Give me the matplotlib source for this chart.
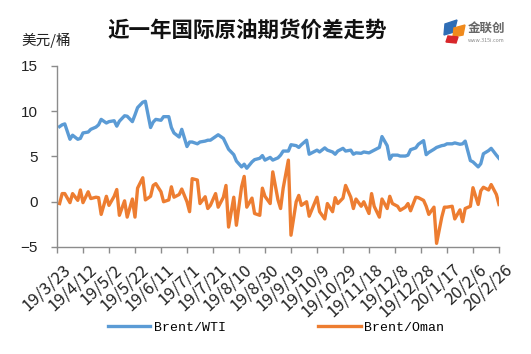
import numpy as np
import pandas as pd
import matplotlib
matplotlib.use("Agg")
import matplotlib.pyplot as plt
import matplotlib.transforms as mtransforms
from matplotlib.patches import Polygon

# 价差数据（美元/桶），隔一个交易日取一个点
brent_wti = [8.3, 8.5, 8.6, 6.9, 7.35, 6.9, 7.0, 7.6, 7.7, 8.0,
             8.25, 8.5, 9.1, 8.7, 8.85, 8.95, 8.35, 8.9, 9.5, 9.45,
             8.85, 9.6, 10.4, 11.0, 11.1, 8.2, 8.8, 9.1, 9.0, 9.4,
             9.4, 8.2, 7.6, 7.15, 8.0, 6.1, 6.6, 6.6, 6.4, 6.6,
             6.7, 6.8, 6.8, 7.2, 7.4, 7.0, 6.4, 5.8, 5.2, 4.5,
             3.85, 4.15, 3.7, 4.4, 4.65, 4.8, 5.1, 4.6, 4.9, 4.6,
             4.85, 5.15, 5.6, 5.6, 6.3, 6.2, 6.0, 6.3, 6.8, 5.25,
             5.55, 5.7, 5.5, 5.95, 5.7, 5.5, 5.25, 5.6, 5.9, 5.6,
             5.7, 5.25, 5.4, 5.35, 5.5, 5.4, 5.55, 5.7, 6.0, 7.2,
             6.2, 4.7, 5.15, 5.15, 5.05, 5.05, 5.15, 5.75, 5.95, 6.35,
             6.75, 5.2, 5.45, 5.8, 6.0, 6.2, 6.25, 6.4, 6.4, 6.5,
             6.35, 6.4, 6.7, 4.55, 4.4, 3.85, 4.2, 5.3, 5.65, 5.9,
             5.15, 4.8]

brent_oman = [-0.2, 0.9, 0.9, -0.1, 0.9, 0.15, 1.3, -0.1, 1.1, 0.35,
              0.5, 0.45, -1.4, 0.6, -0.4, 0.6, 1.35, -1.5, 0.1, -1.7,
              0.3, -1.7, 1.5, 2.65, 0.2, 0.6, 1.8, 2.0, 1.1, 0.0,
              0.2, 1.65, 0.5, 0.8, 1.4, 0.0, -1.1, 2.55, 2.4, -0.2,
              0.55, -0.75, -0.4, 0.9, -0.6, 0.5, 1.8, -2.8, 0.5, -2.6,
              1.65, 2.8, -0.6, 0.4, -1.3, -1.5, 1.5, 0.6, -0.2, 3.3,
              0.2, -0.75, 1.5, 4.6, -3.7, 0.0, 0.7, -0.4, 0.0, -1.6,
              -0.2, 0.5, -1.1, -1.9, -0.2, -1.1, 0.45, -0.2, 0.4, 1.8,
              0.5, -0.75, 0.3, -0.5, 0.0, -1.3, 0.9, -0.5, -1.7, 0.3,
              -0.75, 0.6, -0.2, -0.5, -0.95, -0.6, -0.2, -1.0, 0.5, 0.45,
              0.15, -0.5, -1.4, -0.6, -4.6, -1.7, -0.6, -0.6, -0.5, -1.9,
              -0.9, -2.2, -0.75, -0.5, 1.55, -0.3, 1.2, 1.6, 1.3, 1.9,
              0.8, -0.3]

dates = pd.bdate_range("2019-03-25", "2020-02-26")[::2][:len(brent_wti)]

tick_labels = ["19/3/23", "19/4/12", "19/5/2", "19/5/22", "19/6/11", "19/7/1",
               "19/7/21", "19/8/10", "19/8/30", "19/9/19", "19/10/9", "19/10/29",
               "19/11/18", "19/12/8", "19/12/28", "20/1/17", "20/2/6", "20/2/26"]
tick_dates = [pd.to_datetime("20" + s, format="%Y/%m/%d") for s in tick_labels]

plt.rcParams['font.family'] = ['Noto Sans CJK SC', 'DejaVu Sans']

fig = plt.figure(figsize=(5.31, 3.54), dpi=100)
ax = fig.add_axes([0.1073, 0.3023, 0.8324, 0.5113])

ax.plot(dates, brent_wti, color='#5B9BD5', lw=2.4, label='Brent/WTI',
        solid_joinstyle='round')
ax.plot(dates, brent_oman, color='#ED7D31', lw=2.4, label='Brent/Oman',
        solid_joinstyle='round')

ax.set_ylim(-5, 15)
ax.set_yticks([-5, 0, 5, 10, 15])
ax.set_xlim(tick_dates[0], tick_dates[-1])
ax.set_xticks(tick_dates)
ax.set_xticklabels([])
# 日期标签：斜放，右上角略偏向刻度右下方
trans = ax.get_xaxis_transform() + mtransforms.ScaledTranslation(
    5 / 100, -14 / 100, fig.dpi_scale_trans)
for d, s in zip(tick_dates, tick_labels):
    ax.text(d, 0, s, transform=trans, rotation=43, ha='right', va='top',
            rotation_mode='anchor', fontsize=12, color='#222222')
for lab in ax.get_yticklabels():
    lab.set_family('Liberation Sans')
    lab.set_fontsize(11)

for s in ['top', 'right']:
    ax.spines[s].set_visible(False)
for s in ['left', 'bottom']:
    ax.spines[s].set_color('#8c8c8c')
    ax.spines[s].set_linewidth(1.0)
ax.tick_params(axis='both', color='#8c8c8c', length=4, width=1.0,
               labelcolor='#222222')
ax.tick_params(axis='y', pad=10)

leg = fig.legend(loc='center', bbox_to_anchor=(0.52, 0.074), ncol=2,
                 frameon=False, handlelength=3.2, columnspacing=7.0,
                 handletextpad=0.3, prop={'family': 'Liberation Mono', 'size': 9.5})

fig.text(0.465, 0.915, '近一年国际原油期货价差走势', ha='center', va='center',
         fontsize=15.5, fontweight='bold', color='#111111')
fig.text(0.04, 0.887, '美元/桶', ha='left', va='center', fontsize=10.5,
         color='#222222')

# 右上角标志（简化）
lx, ly = 450, 31
def px(x, y):
    return (x / 531, 1 - y / 354)
fig.patches.append(Polygon([px(lx - 5, ly - 7), px(lx + 7, ly - 11), px(lx + 4, ly + 1),
                            px(lx - 6, ly + 4)], closed=True, transform=fig.transFigure,
                           color='#2f6db5'))
fig.patches.append(Polygon([px(lx + 4, ly - 3), px(lx + 15, ly - 6), px(lx + 13, ly + 4),
                            px(lx + 3, ly + 6)], closed=True, transform=fig.transFigure,
                           color='#f08a1c'))
fig.patches.append(Polygon([px(lx - 2, ly + 5), px(lx + 8, ly + 6), px(lx + 6, ly + 12),
                            px(lx - 4, ly + 11)], closed=True, transform=fig.transFigure,
                           color='#d8262a'))
fig.text(px(486, 28)[0], px(486, 28)[1], '金联创', ha='center', va='center',
         fontsize=9, fontweight='bold', color='#666666')
fig.text(px(486, 40)[0], px(486, 40)[1], 'www.315i.com', ha='center', va='center',
         fontsize=3.8, color='#888888')

fig.savefig('out.png', dpi=100)
